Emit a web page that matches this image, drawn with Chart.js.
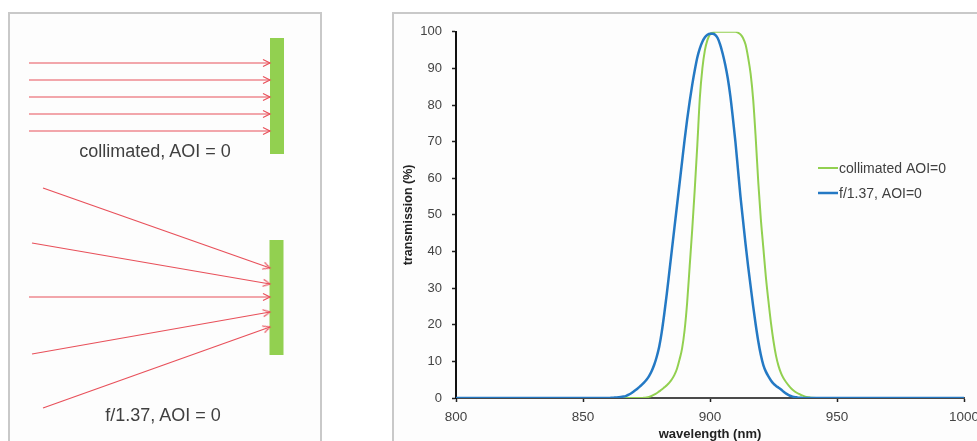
<!DOCTYPE html>
<html>
<head>
<meta charset="utf-8">
<script src="https://cdn.jsdelivr.net/npm/chart.js@4"></script>
<style>
  html, body { margin: 0; padding: 0; background: #fff; overflow: hidden; }
  body { width: 977px; height: 441px; position: relative; font-family: "Liberation Sans", Arial, sans-serif; }
  .panel { position: absolute; box-sizing: border-box; border: 2px solid #c9c9c9; background: #fdfdfd; }
  canvas { position: absolute; }
  .lbl { position: absolute; color: #404040; font-size: 18px; white-space: nowrap; transform: translate(-50%, -50%); }
</style>
</head>
<body>
<div class="panel" style="left:8px;top:12px;width:314px;height:440px"></div>
<div class="panel" style="left:392px;top:12px;width:620px;height:440px"></div>
<canvas id="diagram" width="310" height="427" style="left:10px;top:14px"></canvas>
<canvas id="spectrum" width="600" height="427" style="left:394px;top:14px"></canvas>
<div class="lbl" style="left:155px;top:151px">collimated, AOI = 0</div>
<div class="lbl" style="left:163px;top:415px">f/1.37, AOI = 0</div>
<script>

// spectrum data
var wavelength = [800, 850,
  860, 861, 862, 863, 864, 865, 866, 867, 868, 869,
  870, 871, 872, 873, 874, 875, 876, 877, 878, 879,
  880, 881, 882, 883, 884, 885, 886, 887, 888, 889,
  890, 891, 892, 893, 894, 895, 896, 897, 898, 899,
  900, 901, 902, 903, 904, 905, 906, 907, 908, 909,
  910, 911, 912, 913, 914, 915, 916, 917, 918, 919,
  920, 921, 922, 923, 924, 925, 926, 927, 928, 929,
  930, 931, 932, 933, 934, 935, 936, 937, 938, 939,
  940, 950, 1000];

var collimated = [0, 0,
  0, 0, 0, 0, 0, 0, 0, 0, 0, 0,
  0, 0, 0, 0, 0.05, 0.15, 0.3, 0.55, 0.9, 1.3,
  1.8, 2.3, 2.9, 3.5, 4.2, 5.1, 6.3, 8, 10.5, 13.5,
  18.5, 26, 36, 46, 57, 69, 82, 90, 95, 97.8,
  99.3, 99.8, 100, 100, 100, 100, 100, 100, 100, 100,
  100, 99.8, 99.3, 98.3, 96.5, 93, 88.5, 81.5, 71, 59,
  49, 41, 33, 26.5, 20.5, 15.5, 11.5, 8.7, 6.7, 5.3,
  4.3, 3.4, 2.6, 2, 1.5, 1.1, 0.8, 0.5, 0.3, 0.2,
  0.1, 0, 0];

var focused = [0, 0,
  0, 0.05, 0.1, 0.15, 0.2, 0.3, 0.4, 0.6, 0.9, 1.3,
  1.8, 2.3, 2.9, 3.5, 4.2, 5, 6, 7.3, 9, 11.2,
  14, 18, 23, 28.5, 34.5, 40.5, 46.5, 52.5, 58.5, 64.5,
  70.5, 76, 81, 85.5, 89.5, 93, 95.5, 97.3, 98.5, 99.2,
  99.5, 99.5, 99.2, 98.3, 96.5, 94, 91, 87.3, 82.5, 76.5,
  70, 62.5, 55, 48.5, 42, 36, 30.5, 25, 20, 15.5,
  11.8, 9, 7.2, 5.9, 4.8, 3.9, 3.3, 2.8, 2.3, 1.7,
  1.2, 0.8, 0.5, 0.3, 0.2, 0.1, 0.05, 0, 0, 0,
  0, 0, 0];

var seriesNames = ['collimated AOI=0', 'f/1.37, AOI=0'];
var xTicks = [800, 850, 900, 950, 1000];
var yTicks = [0, 10, 20, 30, 40, 50, 60, 70, 80, 90, 100];

// diagram data (left panel), x right, y down
var collimatedStart = [[19, 49], [19, 66], [19, 83], [19, 100], [19, 117]];
var collimatedEnd = [[260, 49], [260, 66], [260, 83], [260, 100], [260, 117]];
var focusedStart = [[33, 174], [22, 229], [19, 283], [22, 340], [33, 394]];
var focusedEnd = [[260, 254], [260, 270], [260, 283], [260, 298], [260, 313]];
var filterBars = [[267, 24, 140], [266.5, 226, 341]];

var RED = '#e8505a';
var GREEN = '#92d050';
var BLUE = '#2479c4';

function pts(xs, ys){
  return xs.map(function(x, i){ return {x: x, y: ys[i]}; });
}

// small open arrow head, tip in the centre of the canvas
function arrowHead(){
  var c = document.createElement('canvas');
  c.width = 18; c.height = 10;
  var g = c.getContext('2d');
  g.strokeStyle = RED;
  g.lineWidth = 1.2;
  g.beginPath();
  g.moveTo(2, 1.5);
  g.lineTo(9, 5);
  g.lineTo(2, 8.5);
  g.stroke();
  return c;
}

function rayDataset(a, b, head){
  var ang = Math.atan2(b[1] - a[1], b[0] - a[0]) * 180 / Math.PI;
  return {
    data: [{x: a[0], y: a[1]}, {x: b[0], y: b[1]}],
    showLine: true,
    borderColor: RED,
    borderWidth: 1.2,
    pointRadius: [0, 5],
    pointStyle: head,
    rotation: ang,
    order: 0
  };
}

function drawDiagram(){
  var head = arrowHead();
  var sets = [];
  collimatedStart.forEach(function(s, i){ sets.push(rayDataset(s, collimatedEnd[i], head)); });
  focusedStart.forEach(function(s, i){ sets.push(rayDataset(s, focusedEnd[i], head)); });
  filterBars.forEach(function(b){
    sets.push({
      data: [{x: b[0], y: b[1]}, {x: b[0], y: b[2]}],
      showLine: true,
      borderColor: GREEN,
      borderWidth: 14,
      borderCapStyle: 'butt',
      pointRadius: 0,
      order: 1
    });
  });

  new Chart(document.getElementById('diagram'), {
    type: 'scatter',
    data: { datasets: sets },
    options: {
      responsive: false,
      animation: false,
      layout: { padding: 0, autoPadding: false },
      plugins: { legend: { display: false }, tooltip: { enabled: false } },
      scales: {
        x: { display: false, min: 0, max: 310 },
        y: { display: false, min: 0, max: 427, reverse: true }
      }
    }
  });
}

// legend drawn at the right of the curves
var sideLegend = {
  id: 'sideLegend',
  afterDraw: function(chart, args, opts){
    var ctx = chart.ctx;
    ctx.save();
    ctx.font = '14px "Liberation Sans", Arial, sans-serif';
    ctx.textBaseline = 'middle';
    chart.data.datasets.forEach(function(ds, i){
      var y = opts.y + i * opts.gap;
      ctx.strokeStyle = ds.borderColor;
      ctx.lineWidth = ds.borderWidth;
      ctx.beginPath();
      ctx.moveTo(opts.x, y);
      ctx.lineTo(opts.x + 20, y);
      ctx.stroke();
      ctx.fillStyle = '#404040';
      ctx.fillText(ds.label, opts.x + 21, y + 1);
    });
    ctx.restore();
  }
};

function drawSpectrum(){
  var ctx = document.getElementById('spectrum').getContext('2d');
  new Chart(ctx, {
    type: 'line',
    data: {
      datasets: [{
        label: seriesNames[0],
        data: pts(wavelength, collimated),
        borderColor: GREEN,
        borderWidth: 2,
        pointRadius: 0,
        cubicInterpolationMode: 'monotone',
        order: 1
      }, {
        label: seriesNames[1],
        data: pts(wavelength, focused),
        borderColor: BLUE,
        borderWidth: 2.5,
        pointRadius: 0,
        cubicInterpolationMode: 'monotone',
        order: 0
      }]
    },
    options: {
      responsive: false,
      animation: false,
      layout: { padding: { top: 13, right: 30, left: 0, bottom: 0 } },
      plugins: {
        legend: { display: false },
        tooltip: { enabled: false },
        sideLegend: { x: 424, y: 154, gap: 25 }
      },
      scales: {
        x: {
          type: 'linear',
          min: 800,
          max: 1000,
          afterBuildTicks: function(s){ s.ticks = xTicks.map(function(v){ return {value: v}; }); },
          afterFit: function(s){ s.height = 43; },
          ticks: {
            padding: 7,
            color: '#444',
            font: { size: 13.5, family: '"Liberation Sans", Arial' },
            callback: function(v){ return String(v); }
          },
          grid: { drawOnChartArea: false, tickLength: 4, tickColor: '#222', tickWidth: 1.5 },
          border: { color: '#4a4a4a', width: 2 },
          title: {
            display: true,
            text: 'wavelength (nm)',
            color: '#222',
            padding: 0,
            font: { size: 13, weight: 'bold', lineHeight: 1, family: '"Liberation Sans", Arial' }
          }
        },
        y: {
          min: 0,
          max: 100,
          afterBuildTicks: function(s){ s.ticks = yTicks.map(function(v){ return {value: v}; }); },
          afterFit: function(s){ s.width = 62; },
          ticks: { padding: 10, color: '#444', font: { size: 13, family: '"Liberation Sans", Arial' } },
          grid: { drawOnChartArea: false, tickLength: 4, tickColor: '#222', tickWidth: 1.5 },
          border: { color: '#111', width: 2 },
          title: {
            display: true,
            text: 'transmission (%)',
            color: '#222',
            padding: { top: 7, bottom: 0 },
            font: { size: 12.5, weight: 'bold', family: '"Liberation Sans", Arial' }
          }
        }
      }
    },
    plugins: [sideLegend]
  });
}

function init(){
  drawDiagram();
  drawSpectrum();
}

init();
</script>
</body>
</html>
